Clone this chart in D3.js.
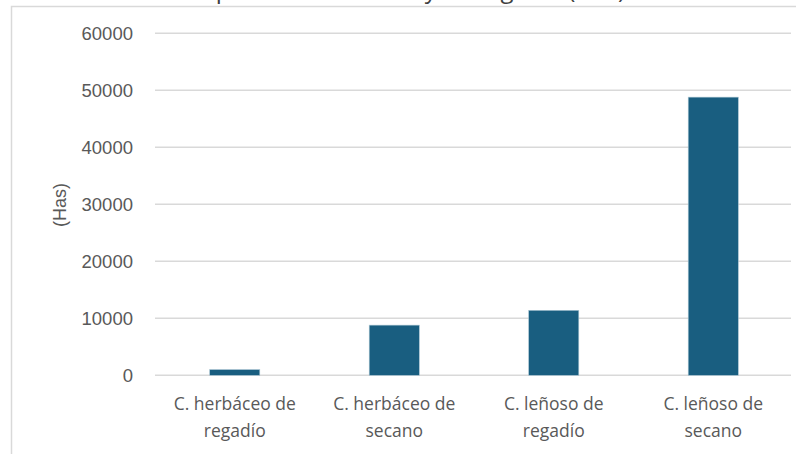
<!DOCTYPE html>
<html>
<head>
    <meta charset="utf-8">
    <script src="https://d3js.org/d3.v7.min.js"></script>
    <style>
        body { margin: 0; background: #fff; }
        text { font-family: 'Liberation Sans', Arial, sans-serif; fill: #595959; }
    </style>
</head>
<body>
    <svg id="chart" width="796" height="454"></svg>
    <script>
        // chart data
        var categories = ["C. herbáceo de regadío", "C. herbáceo de secano", "C. leñoso de regadío", "C. leñoso de secano"];
        var labelLines = [["C. herbáceo de", "regadío"], ["C. herbáceo de", "secano"], ["C. leñoso de", "regadío"], ["C. leñoso de", "secano"]];
        var values = [1000, 8800, 11400, 48800];
        var yTicks = [0, 10000, 20000, 30000, 40000, 50000, 60000];
        var title = "Superficie de secano y de regadío (Has)";
        var yLabel = "(Has)";

        var svg = d3.select("#chart");

        // outer frame (cut off on right and bottom)
        svg.append("rect")
            .attr("x", 11.5).attr("y", 6.5)
            .attr("width", 900).attr("height", 600)
            .attr("fill", "none")
            .attr("stroke", "#d9d9d9")
            .attr("stroke-width", 1.5);

        // title, mostly off the top edge
        svg.append("text")
            .attr("x", 625).attr("y", -2)
            .attr("text-anchor", "end")
            .style("font-family", "'Open Sans', sans-serif")
            .style("font-size", "24px")
            .style("fill", "#404040")
            .text(title);

        var x = d3.scaleBand()
            .domain(categories)
            .range([155, 793])
            .paddingInner(0.686)
            .paddingOuter(0.343);

        var y = d3.scaleLinear()
            .domain([0, 60000])
            .range([375.3, 33.3]);

        // gridlines
        svg.selectAll(".grid")
            .data(yTicks)
            .enter()
            .append("line")
            .attr("x1", 155).attr("x2", 791)
            .attr("y1", d => y(d)).attr("y2", d => y(d))
            .attr("stroke", "#d9d9d9")
            .attr("stroke-width", 1.5);

        // y tick labels
        svg.selectAll(".ytick")
            .data(yTicks)
            .enter()
            .append("text")
            .attr("x", 133)
            .attr("y", d => y(d))
            .attr("dy", "0.35em")
            .attr("text-anchor", "end")
            .style("font-size", "18.5px")
            .text(d => d);

        // bars
        svg.selectAll(".bar")
            .data(values)
            .enter()
            .append("rect")
            .attr("x", (d, i) => x(categories[i]))
            .attr("y", d => y(d))
            .attr("width", x.bandwidth())
            .attr("height", d => y(0) - y(d))
            .attr("fill", "#195e80")
            .attr("stroke", "#a9c4d2")
            .attr("stroke-width", 0.6);

        // category labels
        var cat = svg.selectAll(".cat")
            .data(labelLines)
            .enter()
            .append("text")
            .attr("text-anchor", "middle")
            .style("font-family", "'Open Sans', sans-serif")
            .style("font-size", "17.5px");

        cat.each(function (lines, i) {
            var cx = x(categories[i]) + x.bandwidth() / 2;
            d3.select(this).selectAll("tspan")
                .data(lines)
                .enter()
                .append("tspan")
                .attr("x", cx)
                .attr("y", (d, j) => 410 + j * 27)
                .text(d => d);
        });

        // y axis title
        svg.append("text")
            .attr("transform", "translate(66,205) rotate(-90)")
            .attr("text-anchor", "middle")
            .style("font-size", "18px")
            .text(yLabel);
    </script>
</body>
</html>
